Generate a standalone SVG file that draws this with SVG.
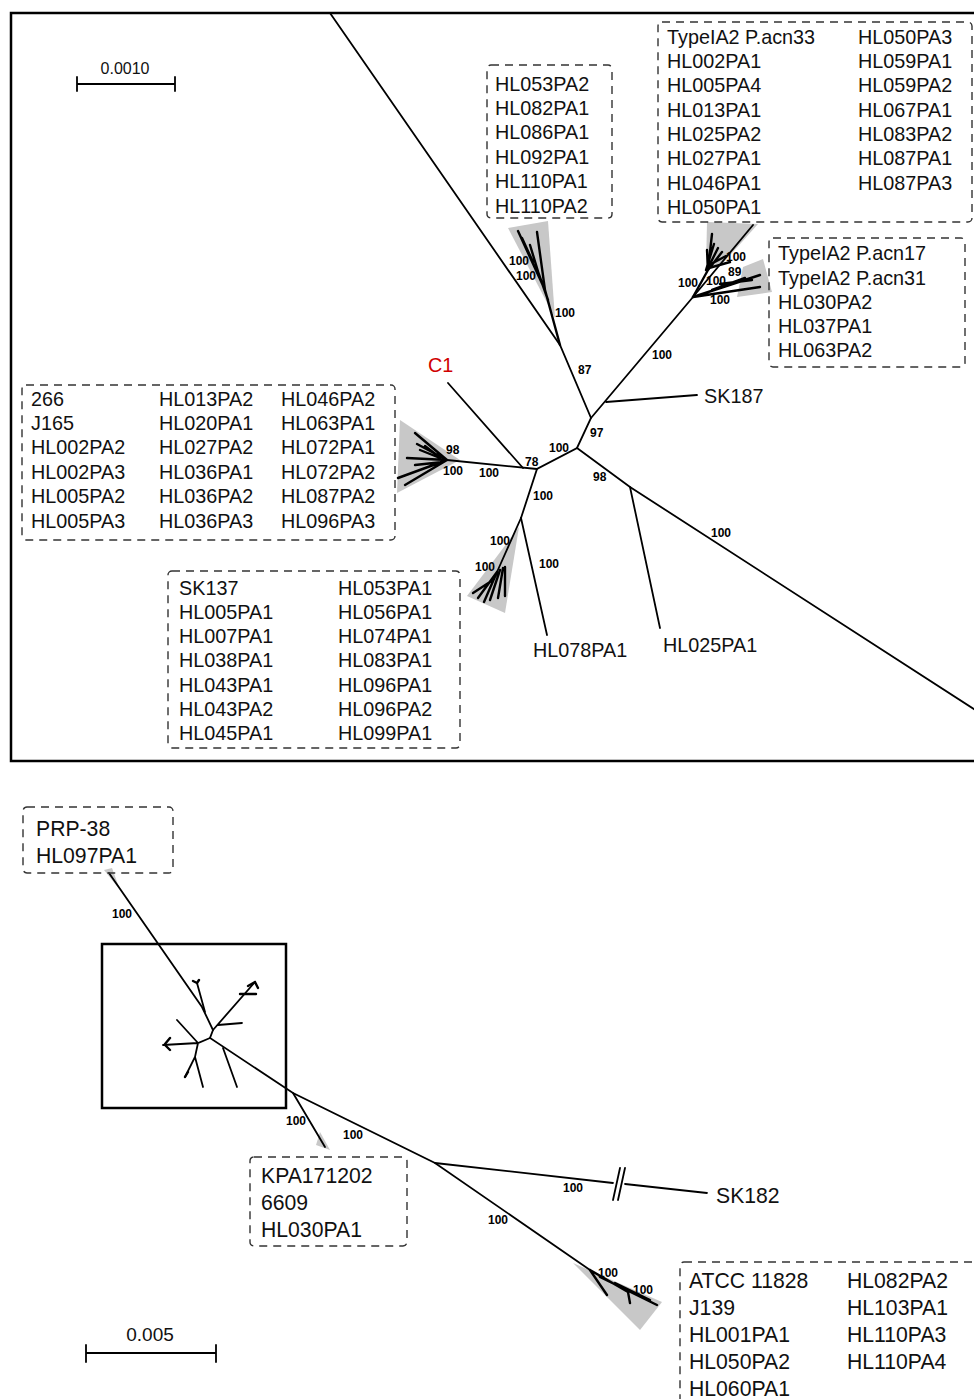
<svg xmlns="http://www.w3.org/2000/svg" width="974" height="1399" viewBox="0 0 974 1399">
<style>
.br{stroke:#000;stroke-width:1.8;fill:none;stroke-linecap:round}
.cl{stroke:#000;stroke-width:2.4;fill:none;stroke-linecap:round}
.wd{fill:#c8c8c8;stroke:none}
.box{fill:none;stroke:#333;stroke-width:1.4;stroke-dasharray:8,6}
.t{font-family:"Liberation Sans",Arial,sans-serif;font-size:19.8px;fill:#111}
.tb{font-family:"Liberation Sans",Arial,sans-serif;font-size:21.2px;fill:#111}
.bs{font-family:"Liberation Sans",Arial,sans-serif;font-size:12px;fill:#000;font-weight:bold}
.sc{font-family:"Liberation Sans",Arial,sans-serif;font-size:16px;fill:#111}
</style>
<rect width="974" height="1399" fill="#fff"/>

<g id="top-frame"><rect x="11" y="13" width="975" height="748" fill="none" stroke="#000" stroke-width="2.5"/></g>
<g id="zoom-square"><rect x="102" y="944" width="184" height="164" fill="none" stroke="#000" stroke-width="2.5"/></g>

<g id="scale-top">
<path class="br" d="M77,84H175M77,77V91M175,77V91"/>
<text class="sc" x="125" y="74" text-anchor="middle">0.0010</text>
</g>
<g id="scale-bottom">
<path class="br" d="M86,1353H216M86,1345V1362M216,1345V1362"/>
<text class="tb" x="150" y="1341" text-anchor="middle" style="font-size:19px">0.005</text>
</g>

<g id="wedges">
<polygon class="wd" points="508,228 548,221 555,318"/>
<polygon class="wd" points="706,268 707,222 758,224 724,262"/>
<polygon class="wd" points="737,297 743,267 763,259 772,292"/>
<polygon class="wd" points="400,420 460,460 397,493"/>
<polygon class="wd" points="467,596 505,613 519,527"/>
<polygon class="wd" points="104,870 112,868 120,890"/>
<polygon class="wd" points="316,1145 330,1150 320,1132"/>
<polygon class="wd" points="573,1263 662,1302 640,1330"/>
</g>

<g id="connectors">
<path class="br" d="M330,13L560,345L591,418L577,448L537,469L521,518"/>
<path class="br" d="M591,418L693,297L753,225"/>
<path class="br" d="M606,402L697,395"/>
<path class="br" d="M577,448L630,487L980,713"/>
<path class="br" d="M630,487L660,628"/>
<path class="br" d="M537,469L447,460"/>
<path class="br" d="M523,468L448,383"/>
<path class="br" d="M521,518L547,635"/>
<path class="br" d="M521,518L497,572"/>
<path class="cl" d="M560,345L545,290L518,231M545,290L537,232M540,278L530,245M533,262L522,238M548,300L536,266"/>
<path class="cl" d="M693,297L708,270L712,234M708,270L707,250M708,270L722,252M709,266L718,248M711,264L726,256M709,268L730,262M706,270L714,244"/>
<path class="cl" d="M693,297L760,275M693,297L760,287M712,290L745,278M720,284L752,280"/>
<path class="cl" d="M447,460L415,433M447,460L417,444M447,460L407,458M447,460L398,478M447,460L405,485M440,458L420,450M443,462L415,465M438,456L425,446"/>
<path class="cl" d="M497,572L478,598M497,572L484,602M500,570L490,600M503,568L498,598M505,567L505,596M493,580L473,593"/>

<path class="br" d="M109,873L202,1007L213,1030L210,1038L293,1093L435,1163L590,1270"/>
<path class="br" d="M293,1093L325,1147"/>
<path class="br" d="M435,1163L613,1183M625,1184L707,1193"/>
<path class="br" d="M613,1200L620,1168M618,1200L625,1168"/>
<path class="cl" d="M590,1270L607,1295M590,1270L628,1292L630,1303M600,1277L657,1305M615,1283L650,1300"/>
<path class="br" d="M205,1012L197,983M213,1030L255,982M218,1025L242,1023M210,1038L198,1043L163,1045M198,1043L177,1020M198,1043L195,1057L185,1077M195,1057L203,1087M223,1048L237,1087"/>
<path class="cl" d="M197,983L193,981M197,983L199,980M255,982L248,986M255,982L258,988M240,994L256,994M165,1044L170,1038M165,1045L170,1050M185,1077L188,1072"/>
</g>

<g id="bootstrap">
<text class="bs" x="509" y="265">100</text>
<text class="bs" x="516" y="280">100</text>
<text class="bs" x="555" y="317">100</text>
<text class="bs" x="578" y="374">87</text>
<text class="bs" x="652" y="359">100</text>
<text class="bs" x="678" y="287">100</text>
<text class="bs" x="706" y="285">100</text>
<text class="bs" x="728" y="276">89</text>
<text class="bs" x="726" y="261">100</text>
<text class="bs" x="710" y="304">100</text>
<text class="bs" x="446" y="454">98</text>
<text class="bs" x="443" y="475">100</text>
<text class="bs" x="479" y="477">100</text>
<text class="bs" x="525" y="466">78</text>
<text class="bs" x="549" y="452">100</text>
<text class="bs" x="590" y="437">97</text>
<text class="bs" x="593" y="481">98</text>
<text class="bs" x="533" y="500">100</text>
<text class="bs" x="490" y="545">100</text>
<text class="bs" x="475" y="571">100</text>
<text class="bs" x="539" y="568">100</text>
<text class="bs" x="711" y="537">100</text>
<text class="bs" x="112" y="918">100</text>
<text class="bs" x="286" y="1125">100</text>
<text class="bs" x="343" y="1139">100</text>
<text class="bs" x="563" y="1192">100</text>
<text class="bs" x="488" y="1224">100</text>
<text class="bs" x="598" y="1277">100</text>
<text class="bs" x="633" y="1294">100</text>
</g>

<g id="label-C1"><text class="t" x="428" y="372" style="fill:#d00000">C1</text></g>
<g id="label-SK187"><text class="t" x="704" y="403">SK187</text></g>
<g id="label-HL078PA1"><text class="t" x="533" y="657">HL078PA1</text></g>
<g id="label-HL025PA1"><text class="t" x="663" y="652">HL025PA1</text></g>
<g id="label-SK182"><text class="tb" x="716" y="1203">SK182</text></g>

<g id="box-HL053">
<rect class="box" x="487" y="65" width="125" height="153" rx="4"/>
<text class="t" x="495" y="91">HL053PA2</text>
<text class="t" x="495" y="115">HL082PA1</text>
<text class="t" x="495" y="139">HL086PA1</text>
<text class="t" x="495" y="164">HL092PA1</text>
<text class="t" x="495" y="188">HL110PA1</text>
<text class="t" x="495" y="213">HL110PA2</text>
</g>
<g id="box-acn33">
<rect class="box" x="658" y="22" width="314" height="200" rx="4"/>
<text class="t" x="667" y="44">TypeIA2 P.acn33</text>
<text class="t" x="667" y="68">HL002PA1</text>
<text class="t" x="667" y="92">HL005PA4</text>
<text class="t" x="667" y="117">HL013PA1</text>
<text class="t" x="667" y="141">HL025PA2</text>
<text class="t" x="667" y="165">HL027PA1</text>
<text class="t" x="667" y="190">HL046PA1</text>
<text class="t" x="667" y="214">HL050PA1</text>
<text class="t" x="858" y="44">HL050PA3</text>
<text class="t" x="858" y="68">HL059PA1</text>
<text class="t" x="858" y="92">HL059PA2</text>
<text class="t" x="858" y="117">HL067PA1</text>
<text class="t" x="858" y="141">HL083PA2</text>
<text class="t" x="858" y="165">HL087PA1</text>
<text class="t" x="858" y="190">HL087PA3</text>
</g>
<g id="box-acn17">
<rect class="box" x="769" y="238" width="196" height="129" rx="4"/>
<text class="t" x="778" y="260">TypeIA2 P.acn17</text>
<text class="t" x="778" y="285">TypeIA2 P.acn31</text>
<text class="t" x="778" y="309">HL030PA2</text>
<text class="t" x="778" y="333">HL037PA1</text>
<text class="t" x="778" y="357">HL063PA2</text>
</g>
<g id="box-266">
<rect class="box" x="22" y="385" width="373" height="155" rx="4"/>
<text class="t" x="31" y="406">266</text>
<text class="t" x="31" y="430">J165</text>
<text class="t" x="31" y="454">HL002PA2</text>
<text class="t" x="31" y="479">HL002PA3</text>
<text class="t" x="31" y="503">HL005PA2</text>
<text class="t" x="31" y="528">HL005PA3</text>
<text class="t" x="159" y="406">HL013PA2</text>
<text class="t" x="159" y="430">HL020PA1</text>
<text class="t" x="159" y="454">HL027PA2</text>
<text class="t" x="159" y="479">HL036PA1</text>
<text class="t" x="159" y="503">HL036PA2</text>
<text class="t" x="159" y="528">HL036PA3</text>
<text class="t" x="281" y="406">HL046PA2</text>
<text class="t" x="281" y="430">HL063PA1</text>
<text class="t" x="281" y="454">HL072PA1</text>
<text class="t" x="281" y="479">HL072PA2</text>
<text class="t" x="281" y="503">HL087PA2</text>
<text class="t" x="281" y="528">HL096PA3</text>
</g>
<g id="box-SK137">
<rect class="box" x="168" y="571" width="292" height="177" rx="4"/>
<text class="t" x="179" y="595">SK137</text>
<text class="t" x="179" y="619">HL005PA1</text>
<text class="t" x="179" y="643">HL007PA1</text>
<text class="t" x="179" y="667">HL038PA1</text>
<text class="t" x="179" y="692">HL043PA1</text>
<text class="t" x="179" y="716">HL043PA2</text>
<text class="t" x="179" y="740">HL045PA1</text>
<text class="t" x="338" y="595">HL053PA1</text>
<text class="t" x="338" y="619">HL056PA1</text>
<text class="t" x="338" y="643">HL074PA1</text>
<text class="t" x="338" y="667">HL083PA1</text>
<text class="t" x="338" y="692">HL096PA1</text>
<text class="t" x="338" y="716">HL096PA2</text>
<text class="t" x="338" y="740">HL099PA1</text>
</g>
<g id="box-PRP38">
<rect class="box" x="23" y="807" width="150" height="66" rx="4"/>
<text class="tb" x="36" y="836">PRP-38</text>
<text class="tb" x="36" y="863">HL097PA1</text>
</g>
<g id="box-KPA">
<rect class="box" x="250" y="1157" width="157" height="89" rx="4"/>
<text class="tb" x="261" y="1183">KPA171202</text>
<text class="tb" x="261" y="1210">6609</text>
<text class="tb" x="261" y="1237">HL030PA1</text>
</g>
<g id="box-ATCC">
<rect class="box" x="680" y="1262" width="310" height="150" rx="4"/>
<text class="tb" x="689" y="1288">ATCC 11828</text>
<text class="tb" x="689" y="1315">J139</text>
<text class="tb" x="689" y="1342">HL001PA1</text>
<text class="tb" x="689" y="1369">HL050PA2</text>
<text class="tb" x="689" y="1396">HL060PA1</text>
<text class="tb" x="847" y="1288">HL082PA2</text>
<text class="tb" x="847" y="1315">HL103PA1</text>
<text class="tb" x="847" y="1342">HL110PA3</text>
<text class="tb" x="847" y="1369">HL110PA4</text>
</g>
</svg>
